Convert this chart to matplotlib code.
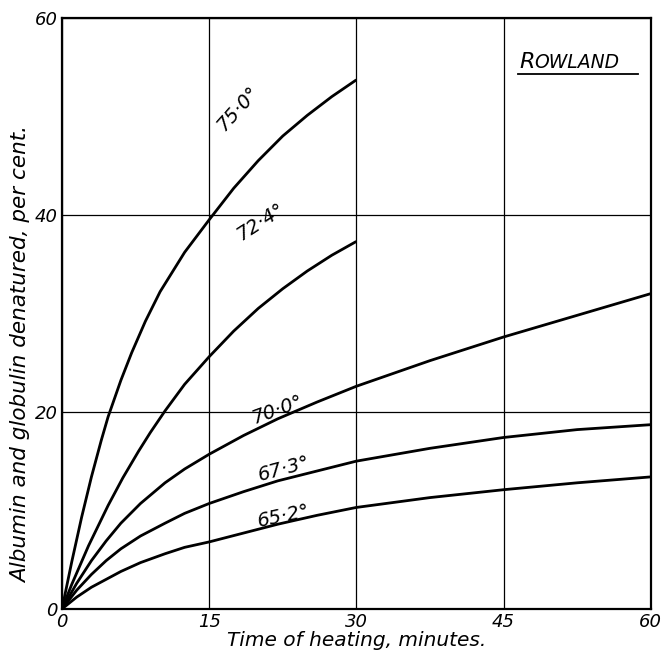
import matplotlib.pyplot as plt
import numpy as np

# values (minutes, per cent denatured)
t_75 = [0, 1, 2, 3, 4, 4.7, 6, 7.1, 8.5, 10, 12.5, 15, 17.5, 20, 22.5, 25, 27.5, 30]
v_75 = [0, 4.8, 9.3, 13.4, 17.1, 19.5, 23.2, 26.0, 29.2, 32.2, 36.2, 39.5, 42.7, 45.5, 48, 50.1, 52, 53.7]

t_724 = [0, 1, 2.7, 4.7, 6.2, 7.8, 9, 10.5, 12.5, 15, 17.5, 20, 22.5, 25, 27.5, 30]
v_724 = [0, 2.5, 6.4, 10.5, 13.3, 16.0, 17.9, 20.1, 22.8, 25.6, 28.2, 30.5, 32.5, 34.3, 35.9, 37.3]

t_70 = [0, 1.5, 3, 4.5, 6, 8, 10.5, 12.5, 15, 18.5, 22, 26, 30, 37.5, 45, 52.5, 60]
v_70 = [0, 2.6, 4.9, 6.9, 8.7, 10.7, 12.8, 14.2, 15.7, 17.6, 19.3, 21, 22.6, 25.2, 27.6, 29.8, 32]

t_673 = [0, 1.5, 3, 4.5, 6, 8, 10.5, 12.5, 15, 18.5, 22, 26, 30, 37.5, 45, 52.5, 60]
v_673 = [0, 1.9, 3.5, 4.9, 6.1, 7.4, 8.7, 9.7, 10.7, 11.9, 13, 14, 15, 16.3, 17.4, 18.2, 18.7]

t_652 = [0, 1.5, 3, 4.5, 6, 8, 10.5, 12.5, 15, 18.5, 22, 26, 30, 37.5, 45, 52.5, 60]
v_652 = [0, 1.2, 2.2, 3.0, 3.8, 4.7, 5.6, 6.25, 6.8, 7.7, 8.6, 9.5, 10.3, 11.3, 12.1, 12.8, 13.4]

labels = ["75·0°", "72·4°", "70·0°", "67·3°", "65·2°"]
label_pos = [(17.9, 50.8), (20.2, 39.3), (21.9, 20.2), (22.6, 14.2), (22.6, 9.4)]
label_rot = [48, 33, 20, 15, 12]

xticks = [0, 15, 30, 45, 60]
yticks = [0, 20, 40, 60]

fig = plt.figure(figsize=(6.63, 6.59), dpi=100)
ax = fig.add_axes([0.0935, 0.076, 0.888, 0.897])

for t, v in [(t_75, v_75), (t_724, v_724), (t_70, v_70), (t_673, v_673), (t_652, v_652)]:
    ax.plot(t, v, color="black", lw=2.0, solid_capstyle="butt", solid_joinstyle="round", zorder=3)

for txt, (x, y), r in zip(labels, label_pos, label_rot):
    ax.text(x, y, txt, rotation=r, fontsize=14, style="italic",
            ha="center", va="center", rotation_mode="anchor", zorder=4)

ax.set_xlim(0, 60)
ax.set_ylim(0, 60)
ax.set_xticks(xticks)
ax.set_yticks(yticks)
ax.set_xticklabels([str(x) for x in xticks], fontsize=13, style="italic")
ax.set_yticklabels([str(y) for y in yticks], fontsize=13, style="italic")
ax.tick_params(length=0, pad=3)
ax.grid(True, color="black", lw=0.9)
for s in ax.spines.values():
    s.set_linewidth(1.6)

ax.set_xlabel("Time of heating, minutes.", fontsize=14.5, style="italic", labelpad=0)
ax.set_ylabel("Albumin and globulin denatured, per cent.", fontsize=15.5, style="italic")
ax.yaxis.set_label_coords(-0.052, 0.43)

# "ROWLAND" in small capitals, underlined
ax.text(0.777, 0.915, "R", transform=ax.transAxes, fontsize=16, style="italic",
        ha="left", va="baseline")
ax.annotate("OWLAND", xy=(0.777, 0.915), xycoords="axes fraction", xytext=(11, 0),
            textcoords="offset points", fontsize=13.5, style="italic", ha="left", va="baseline")
ax.plot([0.774, 0.978], [0.905, 0.905], transform=ax.transAxes, color="black", lw=1.3)

plt.savefig("out.png", dpi=100)
